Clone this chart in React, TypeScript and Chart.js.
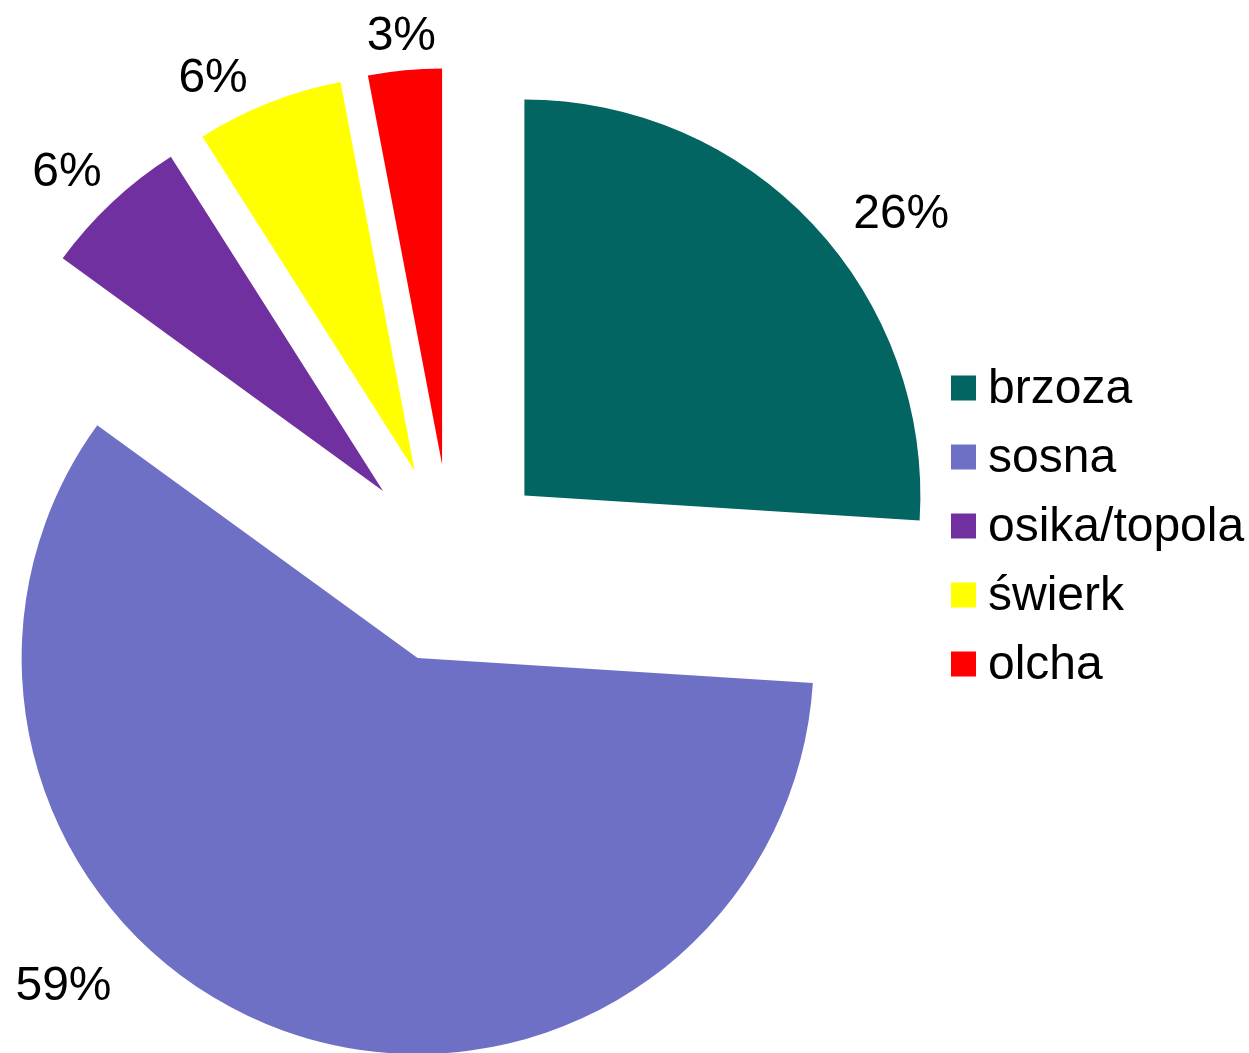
import React, { useEffect, useRef } from "react";
import { Chart, registerables } from "chart.js";

Chart.register(...registerables);

const categories = ["brzoza", "sosna", "osika/topola", "świerk", "olcha"];
const values = [26, 59, 6, 6, 3];
const valueLabels = ["26%", "59%", "6%", "6%", "3%"];
const colors = ["#026561", "#6E70C5", "#7030A0", "#FFFF00", "#FF0000"];

const EXPLODE = 100;
const FONT = '"Liberation Sans", Arial, Helvetica, sans-serif';
// label placement: fraction along slice angle, extra distance beyond radius
const labelFrac = [0.566, 0.63, 0.44, 0.25, 0.5];
const labelExtra = [76, 85, 55, 48, 37];

const explodePlugin = {
  id: "explodePlugin",
  beforeDatasetDraw(chart: any, args: any) {
    const meta = args.meta;
    const ctx = chart.ctx;
    meta.data.forEach((arc: any) => {
      const mid = (arc.startAngle + arc.endAngle) / 2;
      ctx.save();
      ctx.translate(Math.cos(mid) * EXPLODE, Math.sin(mid) * EXPLODE);
      arc.draw(ctx, chart.chartArea);
      ctx.restore();
    });
    return false;
  },
  afterDatasetsDraw(chart: any) {
    const meta = chart.getDatasetMeta(0);
    const ctx = chart.ctx;
    ctx.save();
    ctx.fillStyle = "#000";
    ctx.font = `48px ${FONT}`;
    ctx.textAlign = "center";
    ctx.textBaseline = "middle";
    meta.data.forEach((arc: any, i: number) => {
      const mid = (arc.startAngle + arc.endAngle) / 2;
      const ax = arc.x + Math.cos(mid) * EXPLODE;
      const ay = arc.y + Math.sin(mid) * EXPLODE;
      const a = arc.startAngle + labelFrac[i] * (arc.endAngle - arc.startAngle);
      const d = arc.outerRadius + labelExtra[i];
      ctx.fillText(valueLabels[i], ax + Math.cos(a) * d, ay + Math.sin(a) * d + 3);
    });
    ctx.restore();
  },
  afterDraw(chart: any) {
    const ctx = chart.ctx;
    const boxX = 951;
    const textX = 988;
    const y0 = 388;
    const step = 69;
    const box = 25;
    ctx.save();
    ctx.font = `48px ${FONT}`;
    ctx.textAlign = "left";
    ctx.textBaseline = "middle";
    chart.data.labels.forEach((lab: string, i: number) => {
      const y = y0 + i * step;
      ctx.fillStyle = chart.data.datasets[0].backgroundColor[i];
      ctx.fillRect(boxX, y - box / 2, box, box);
      ctx.fillStyle = "#000";
      ctx.fillText(lab, textX, y + 2);
    });
    ctx.restore();
  },
};

export default function App() {
  const ref = useRef<HTMLCanvasElement>(null);
  useEffect(() => {
    if (!ref.current) return;
    const chart = new Chart(ref.current, {
      type: "pie",
      data: {
        labels: categories,
        datasets: [
          {
            data: values,
            backgroundColor: colors,
            borderWidth: 0,
          },
        ],
      },
      options: {
        animation: false,
        responsive: false,
        devicePixelRatio: 1,
        radius: 396,
        layout: { padding: { left: 0, right: 346, top: 75, bottom: 0 } },
        plugins: {
          legend: { display: false },
          tooltip: { enabled: false },
        },
      } as any,
      plugins: [explodePlugin],
    });
    return () => chart.destroy();
  }, []);
  return (
    <div style={{ position: "absolute", left: 0, top: 0, width: 1249, height: 1053, background: "#fff" }}>
      <canvas ref={ref} width={1249} height={1053} />
    </div>
  );
}
